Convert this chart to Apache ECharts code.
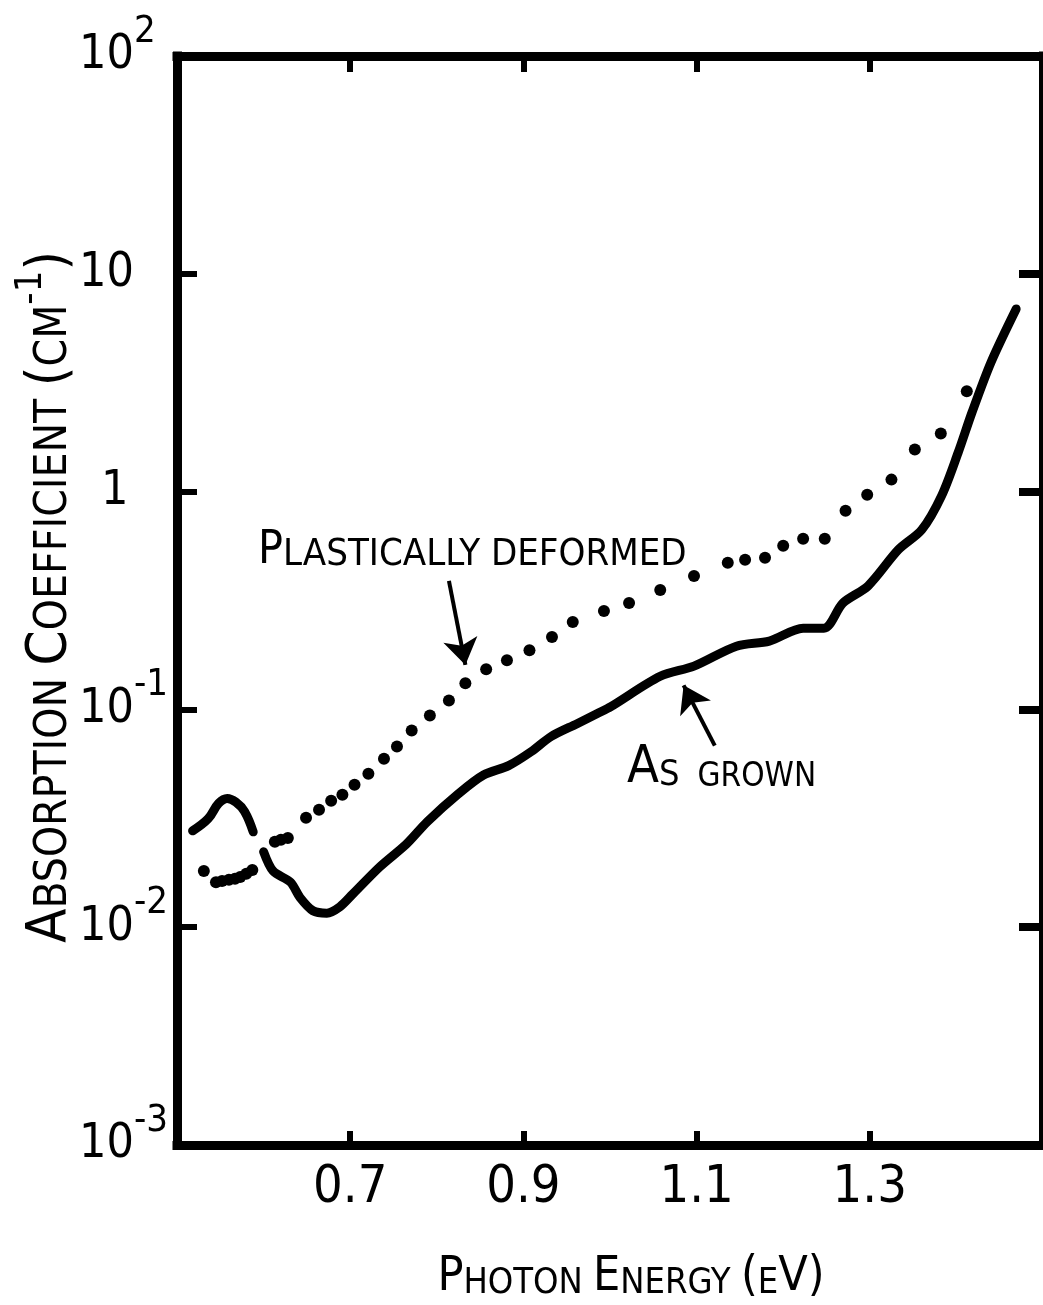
<!DOCTYPE html>
<html>
<head>
<meta charset="utf-8">
<script src="https://cdn.jsdelivr.net/npm/echarts@6/dist/echarts.min.js"></script>
<style>
html,body{margin:0;padding:0;background:#fff;}
#chart{width:1043px;height:1305px;}
</style>
</head>
<body>
<div id="chart"></div>
<script>
// ---- data ----
const xTickValues = [0.7, 0.9, 1.1, 1.3];
const yTickExponents = [-3, -2, -1, 0, 1, 2];

// "As grown" solid curve: small loop at the low-energy end, then main curve
const asGrownLoopX = [0.518, 0.536, 0.548, 0.558, 0.568, 0.578, 0.588];
const asGrownLoopY = [0.0277, 0.0315, 0.0370, 0.0390, 0.0375, 0.0340, 0.0274];

const asGrownMainX = [0.600, 0.611, 0.631, 0.642, 0.657, 0.673, 0.688, 0.703, 0.734, 0.765, 0.789, 0.825, 0.854, 0.883, 0.909, 0.932, 0.962, 0.986, 1.001, 1.058, 1.097, 1.146, 1.184, 1.223, 1.247, 1.269, 1.298, 1.333, 1.360, 1.383, 1.402, 1.418, 1.440, 1.469];
const asGrownMainY = [0.0222, 0.0181, 0.0161, 0.0137, 0.0119, 0.0116, 0.0124, 0.0142, 0.0189, 0.0241, 0.0305, 0.0410, 0.050, 0.0552, 0.064, 0.0751, 0.086, 0.096, 0.103, 0.142, 0.158, 0.195, 0.206, 0.236, 0.236, 0.308, 0.369, 0.541, 0.668, 0.959, 1.51, 2.31, 3.93, 6.90];

// "Plastically deformed" dotted curve
const deformedX = [0.531, 0.545, 0.552, 0.560, 0.567, 0.573, 0.580, 0.587, 0.613, 0.620, 0.628, 0.649, 0.664, 0.678, 0.691, 0.705, 0.721, 0.739, 0.754, 0.771, 0.792, 0.814, 0.833, 0.857, 0.881, 0.907, 0.933, 0.957, 0.993, 1.022, 1.058, 1.097, 1.136, 1.156, 1.179, 1.200, 1.223, 1.248, 1.272, 1.297, 1.325, 1.352, 1.382, 1.412];
const deformedY = [0.0181, 0.0161, 0.0163, 0.0165, 0.0167, 0.0170, 0.0176, 0.0183, 0.0247, 0.0252, 0.0257, 0.0318, 0.0346, 0.0381, 0.0406, 0.0451, 0.0507, 0.0594, 0.0675, 0.080, 0.0938, 0.110, 0.132, 0.153, 0.168, 0.187, 0.215, 0.252, 0.283, 0.308, 0.353, 0.410, 0.471, 0.486, 0.497, 0.564, 0.607, 0.607, 0.817, 0.968, 1.135, 1.56, 1.85, 2.89];

// annotation arrows (data coordinates: [energy, coefficient]) — tail, head
const arrowDeformed = [[0.814, 0.389], [0.833, 0.160]];
const arrowGrown = [[1.121, 0.0682], [1.085, 0.129]];

// ---- build ----
const zip = (xs, ys) => xs.map((x, i) => [x, ys[i]]);
const FONT = "'Liberation Sans Narrow','DejaVu Sans Condensed','Roboto Condensed','Noto Sans',sans-serif";
const INK = '#000';

const chart = echarts.init(document.getElementById('chart'), null, {renderer: 'canvas'});

const axisLineStyle = {color: INK, width: 9, cap: 'square'};

function yLabel(v) {
  const e = Math.round(Math.log10(v));
  if (e === 0) return '{o|1}';
  if (e === 1) return '{b|10}';
  return '{b|10}{s|' + String(e) + '}';
}

const option = {
  backgroundColor: '#fff',
  animation: false,
  grid: {left: 177, top: 56, right: -6, bottom: 160, containLabel: false},
  xAxis: [
    {
      type: 'value', position: 'bottom', min: 0.5, max: 1.5,
      axisLine: {show: true, lineStyle: axisLineStyle},
      axisTick: {show: true, inside: true, length: 14, customValues: xTickValues, lineStyle: {color: INK, width: 6}},
      axisLabel: {
        show: true, customValues: xTickValues, margin: 16,
        formatter: v => v.toFixed(1),
        fontFamily: FONT, fontSize: 52, lineHeight: 54, color: INK
      },
      splitLine: {show: false}
    },
    {
      type: 'value', position: 'top', min: 0.5, max: 1.5,
      axisLine: {show: true, lineStyle: axisLineStyle},
      axisTick: {show: true, inside: true, length: 16, customValues: xTickValues, lineStyle: {color: INK, width: 6}},
      axisLabel: {show: false},
      splitLine: {show: false}
    }
  ],
  yAxis: [
    {
      type: 'log', logBase: 10, position: 'left', min: 0.001, max: 100,
      axisLine: {show: true, lineStyle: axisLineStyle},
      axisTick: {show: true, inside: true, length: 20, lineStyle: {color: INK, width: 6}},
      minorTick: {show: false},
      axisLabel: {
        show: true, align: 'left', margin: 98,
        formatter: yLabel,
        rich: {
          b: {fontFamily: FONT, fontSize: 48, lineHeight: 86, color: INK},
          o: {fontFamily: FONT, fontSize: 48, lineHeight: 86, color: INK, padding: [0, 0, 0, 22]},
          s: {fontFamily: FONT, fontSize: 38, lineHeight: 6, color: INK, verticalAlign: 'top'}
        }
      },
      splitLine: {show: false}
    },
    {
      type: 'log', logBase: 10, position: 'right', min: 0.001, max: 100,
      axisLine: {show: true, lineStyle: axisLineStyle},
      axisTick: {show: true, inside: true, length: 24, lineStyle: {color: INK, width: 8}},
      axisLabel: {show: false},
      splitLine: {show: false}
    }
  ],
  series: [
    {
      name: 'As grown (loop)', type: 'line', xAxisIndex: 0, yAxisIndex: 0,
      data: zip(asGrownLoopX, asGrownLoopY),
      showSymbol: false, smooth: 0.4,
      lineStyle: {color: INK, width: 9, cap: 'round', join: 'round'}
    },
    {
      name: 'As grown', type: 'line', xAxisIndex: 0, yAxisIndex: 0,
      data: zip(asGrownMainX, asGrownMainY),
      showSymbol: false, smooth: 0.3,
      lineStyle: {color: INK, width: 9, cap: 'round', join: 'round'}
    },
    {
      name: 'Plastically deformed', type: 'scatter', xAxisIndex: 0, yAxisIndex: 0,
      data: zip(deformedX, deformedY),
      symbol: 'circle', symbolSize: 12,
      itemStyle: {color: INK, opacity: 1},
      markLine: {
        silent: true, animation: false,
        symbol: ['none', 'arrow'], symbolSize: 26,
        label: {show: false},
        lineStyle: {color: INK, width: 4, type: 'solid', opacity: 1},
        data: [
          [{coord: arrowDeformed[0]}, {coord: arrowDeformed[1]}],
          [{coord: arrowGrown[0]}, {coord: arrowGrown[1]}]
        ]
      }
    }
  ],
  graphic: [
    {
      type: 'text', left: 258, top: 528,
      style: {
        text: '{B|P}{s|LASTICALLY DEFORMED}',
        rich: {
          B: {fontFamily: FONT, fontSize: 46, lineHeight: 46, fill: INK, verticalAlign: 'bottom'},
          s: {fontFamily: FONT, fontSize: 38, lineHeight: 46, fill: INK, verticalAlign: 'bottom'}
        }
      }
    },
    {
      type: 'text', left: 627, top: 742,
      style: {
        text: '{B|A}{s|S}{g|GROWN}',
        rich: {
          B: {fontFamily: FONT, fontSize: 52, lineHeight: 50, fill: INK, verticalAlign: 'bottom'},
          s: {fontFamily: FONT, fontSize: 36, lineHeight: 50, fill: INK, verticalAlign: 'bottom'},
          g: {fontFamily: FONT, fontSize: 33, lineHeight: 50, fill: INK, verticalAlign: 'bottom', padding: [0, 0, 0, 18]}
        }
      }
    },
    {
      type: 'text', x: 631, y: 1276,
      style: {
        text: '{B|P}{s|HOTON }{B|E}{s|NERGY }{B|(}{s|E}{B|V)}',
        align: 'center', verticalAlign: 'middle',
        rich: {
          B: {fontFamily: FONT, fontSize: 48, lineHeight: 52, fill: INK, verticalAlign: 'bottom'},
          s: {fontFamily: FONT, fontSize: 36, lineHeight: 52, fill: INK, verticalAlign: 'bottom'}
        }
      }
    },
    {
      type: 'text', x: 50, y: 597, rotation: Math.PI / 2,
      style: {
        text: '{B|A}{s|BSORPTION }{B|C}{s|OEFFICIENT }{B|(}{s|CM}{p|-1}{B|)}',
        align: 'center', verticalAlign: 'middle',
        rich: {
          B: {fontFamily: FONT, fontSize: 56, lineHeight: 76, fill: INK, verticalAlign: 'middle'},
          s: {fontFamily: FONT, fontSize: 44, lineHeight: 76, fill: INK, verticalAlign: 'middle', padding: [9, 0, 0, 0]},
          p: {fontFamily: FONT, fontSize: 38, lineHeight: 6, fill: INK, verticalAlign: 'top'}
        }
      }
    }
  ]
};

chart.setOption(option);
</script>
</body>
</html>
